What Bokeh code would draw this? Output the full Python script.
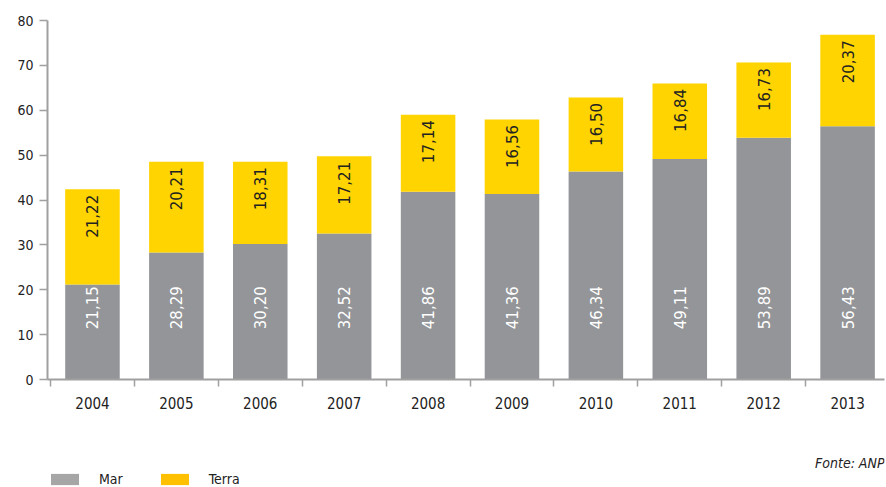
import math
from bokeh.plotting import figure
from bokeh.layouts import column
from bokeh.models import (ColumnDataSource, Range1d, FixedTicker, Legend, LegendItem, Label)
from bokeh.core.properties import value
from bokeh.embed import file_html
from bokeh.resources import INLINE

years = ["2004", "2005", "2006", "2007", "2008", "2009", "2010", "2011", "2012", "2013"]
mar = [21.15, 28.29, 30.20, 32.52, 41.86, 41.36, 46.34, 49.11, 53.89, 56.43]
terra = [21.22, 20.21, 18.31, 17.21, 17.14, 16.56, 16.50, 16.84, 16.73, 20.37]
y_ticks = [0, 10, 20, 30, 40, 50, 60, 70, 80]
series_names = ["Mar", "Terra"]
source_note = "Fonte: ANP"

GRAY = "#939598"
YELLOW = "#FFD400"
LEG_GRAY = "#A6A6A6"
LEG_YELLOW = "#FFC000"
TXT = "#222222"
FONT = "DejaVu Sans Condensed"

xs = [i + 0.5 for i in range(len(years))]
bounds = list(range(len(years)))
totals = [m + t for m, t in zip(mar, terra)]

def fmt(v):
    return f"{v:.2f}".replace(".", ",")

src = ColumnDataSource(dict(
    x=xs, mar=mar, terra=terra, total=totals,
    mar_lbl=[fmt(v) for v in mar], terra_lbl=[fmt(v) for v in terra],
    mar_y=[16] * len(mar), terra_y=[t - 6 for t in totals],
))

p = figure(width=886, height=425, output_backend="svg", toolbar_location=None,
           x_range=Range1d(-0.036, 9.94), y_range=Range1d(0, 80),
           min_border_left=47, min_border_right=2, min_border_top=20, min_border_bottom=46)
p.outline_line_color = None
p.grid.grid_line_color = None

p.vbar_stack(["mar", "terra"], x="x", width=0.65, source=src,
             color=[GRAY, YELLOW], line_color=None)

p.text(x="x", y="mar_y", text="mar_lbl", source=src, angle=math.pi / 2,
       text_align="center", text_baseline="middle", text_color="white",
       text_font=value("DejaVu Sans"), text_font_size="15px")
p.text(x="x", y="terra_y", text="terra_lbl", source=src, angle=math.pi / 2,
       text_align="center", text_baseline="middle", text_color=TXT,
       text_font=value("DejaVu Sans"), text_font_size="15px")

xa = p.xaxis[0]
xa.ticker = FixedTicker(ticks=xs, minor_ticks=bounds)
xa.major_label_overrides = {x: y for x, y in zip(xs, years)}
xa.major_tick_line_color = None
xa.major_tick_out = 7
xa.minor_tick_line_color = "#A0A0A0"
xa.minor_tick_line_width = 1.5
xa.minor_tick_out = 7
xa.minor_tick_in = 0
xa.axis_line_color = "#A0A0A0"
xa.axis_line_width = 2
xa.major_label_standoff = 10
xa.major_label_text_font = FONT
xa.major_label_text_font_size = "15px"
xa.major_label_text_color = TXT

ya = p.yaxis[0]
ya.ticker = FixedTicker(ticks=y_ticks)
ya.minor_tick_line_color = None
ya.major_tick_out = 8
ya.major_tick_in = 0
ya.major_tick_line_color = "#A0A0A0"
ya.major_tick_line_width = 1.5
ya.axis_line_color = "#A0A0A0"
ya.axis_line_width = 2
ya.major_label_standoff = 6
ya.major_label_text_font = FONT
ya.major_label_text_font_size = "14px"
ya.major_label_text_color = TXT

# footer figure: legend + source note (its frame aligns with the chart frame at x=47)
f = figure(width=886, height=62, output_backend="svg", toolbar_location=None,
           x_range=Range1d(0, 1), y_range=Range1d(0, 1),
           x_axis_type=None, y_axis_type=None, min_border=0)
f.outline_line_color = None
f.grid.grid_line_color = None
r1 = f.vbar(x=[0.5], top=[0], bottom=[0], width=0.01, fill_color=LEG_GRAY, line_color=None)
r2 = f.vbar(x=[0.5], top=[0], bottom=[0], width=0.01, fill_color=LEG_YELLOW, line_color=None)
legend = Legend(items=[LegendItem(label=series_names[0], renderers=[r1]),
                       LegendItem(label=series_names[1], renderers=[r2])],
                orientation="horizontal", location=(0, 0),
                glyph_width=35, glyph_height=14, label_standoff=17, spacing=34,
                padding=0, margin=0, border_line_color=None, background_fill_alpha=0,
                label_text_font=FONT, label_text_font_size="14px", label_text_color=TXT)
f.add_layout(legend, "center")
f.add_layout(Label(x=837, y=25, x_units="screen", y_units="screen", text=source_note,
                   text_align="right", text_baseline="middle", text_font=FONT,
                   text_font_style="italic", text_font_size="14px", text_color=TXT))

layout = column(p, f, spacing=0)
open("out.html", "w").write(file_html(layout, INLINE))
